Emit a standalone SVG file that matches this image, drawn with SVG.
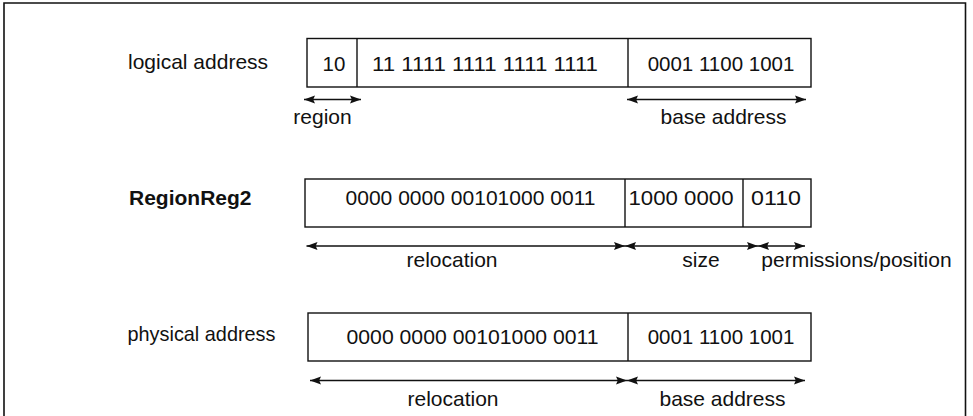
<svg xmlns="http://www.w3.org/2000/svg" width="973" height="416" viewBox="0 0 973 416">
  <style>
    .frame { fill: none; stroke: #111; stroke-width: 1.6; }
    .cell { fill: #fff; stroke: #111; stroke-width: 1.4; }
    .div { stroke: #111; stroke-width: 1.4; }
    .t { font-family: "Liberation Sans", Arial, Helvetica, sans-serif; font-size: 21px; fill: #111; }
    .n { font-size: 20.5px; text-anchor: middle; }
    .c { text-anchor: middle; }
    .b { font-weight: bold; }
    .span { stroke: #111; stroke-width: 1.5; fill: none; marker-start: url(#head); marker-end: url(#head); }
  </style>
  <defs>
    <marker id="head" markerUnits="userSpaceOnUse" markerWidth="12" markerHeight="9" viewBox="0 0 12 9" refX="11" refY="4.5" orient="auto-start-reverse">
      <path d="M0,0.6 L11,4.5 L0,8.4 L1.8,4.5 Z" fill="#111"/>
    </marker>
  </defs>

  <rect width="973" height="416" fill="#fff"/>

  <!-- outer frame, open at the bottom -->
  <path class="frame" d="M4,416 L4,3 L965.5,3 L965.5,416"/>

  <!-- logical address word -->
  <g id="logical-address">
    <text class="t" x="128" y="68.5">logical address</text>
    <rect class="cell" x="307" y="38.5" width="504" height="48.5"/>
    <line class="div" x1="357" y1="38.5" x2="357" y2="87"/>
    <line class="div" x1="628" y1="38.5" x2="628" y2="87"/>
    <text class="t n" x="334" y="70.5">10</text>
    <text class="t n" x="485" y="70.5" textLength="226" lengthAdjust="spacingAndGlyphs">11 1111 1111 1111 1111</text>
    <text class="t n" x="721" y="70.5">0001 1100 1001</text>
  </g>

  <!-- region register contents -->
  <g id="region-reg2">
    <text class="t b" x="129" y="205">RegionReg2</text>
    <rect class="cell" x="305" y="179" width="506" height="48"/>
    <line class="div" x1="625" y1="179" x2="625" y2="227"/>
    <line class="div" x1="743" y1="179" x2="743" y2="227"/>
    <text class="t n" x="470.5" y="204.5" textLength="250" lengthAdjust="spacingAndGlyphs">0000 0000 00101000 0011</text>
    <text class="t n" x="681" y="204.5" textLength="105" lengthAdjust="spacingAndGlyphs">1000 0000</text>
    <text class="t n" x="776" y="204.5" textLength="50" lengthAdjust="spacingAndGlyphs">0110</text>
  </g>

  <!-- physical address word -->
  <g id="physical-address">
    <text class="t" x="127.5" y="341" textLength="148" lengthAdjust="spacingAndGlyphs">physical address</text>
    <rect class="cell" x="308" y="313" width="503" height="48"/>
    <line class="div" x1="628" y1="313" x2="628" y2="361"/>
    <text class="t n" x="472.5" y="344" textLength="252" lengthAdjust="spacingAndGlyphs">0000 0000 00101000 0011</text>
    <text class="t n" x="721" y="344">0001 1100 1001</text>
  </g>

  <!-- field span arrows -->
  <g id="connectors">
    <line class="span" x1="304" y1="99.5" x2="361" y2="99.5"/>
    <line class="span" x1="627" y1="99.5" x2="806" y2="99.5"/>
    <line class="span" x1="306.5" y1="246" x2="625" y2="246"/>
    <line class="span" x1="625" y1="246" x2="758" y2="246"/>
    <line class="span" x1="758" y1="246" x2="805" y2="246"/>
    <line class="span" x1="310" y1="380.5" x2="627" y2="380.5"/>
    <line class="span" x1="627" y1="380.5" x2="805" y2="380.5"/>
  </g>

  <!-- field names -->
  <g id="field-labels">
    <text class="t c" x="322.5" y="123.5">region</text>
    <text class="t c" x="723.5" y="124">base address</text>
    <text class="t c" x="452" y="266.5">relocation</text>
    <text class="t c" x="701" y="266.5">size</text>
    <text class="t c" x="856.5" y="266.5">permissions/position</text>
    <text class="t c" x="453" y="405.5">relocation</text>
    <text class="t c" x="722.5" y="405.5">base address</text>
  </g>
</svg>
